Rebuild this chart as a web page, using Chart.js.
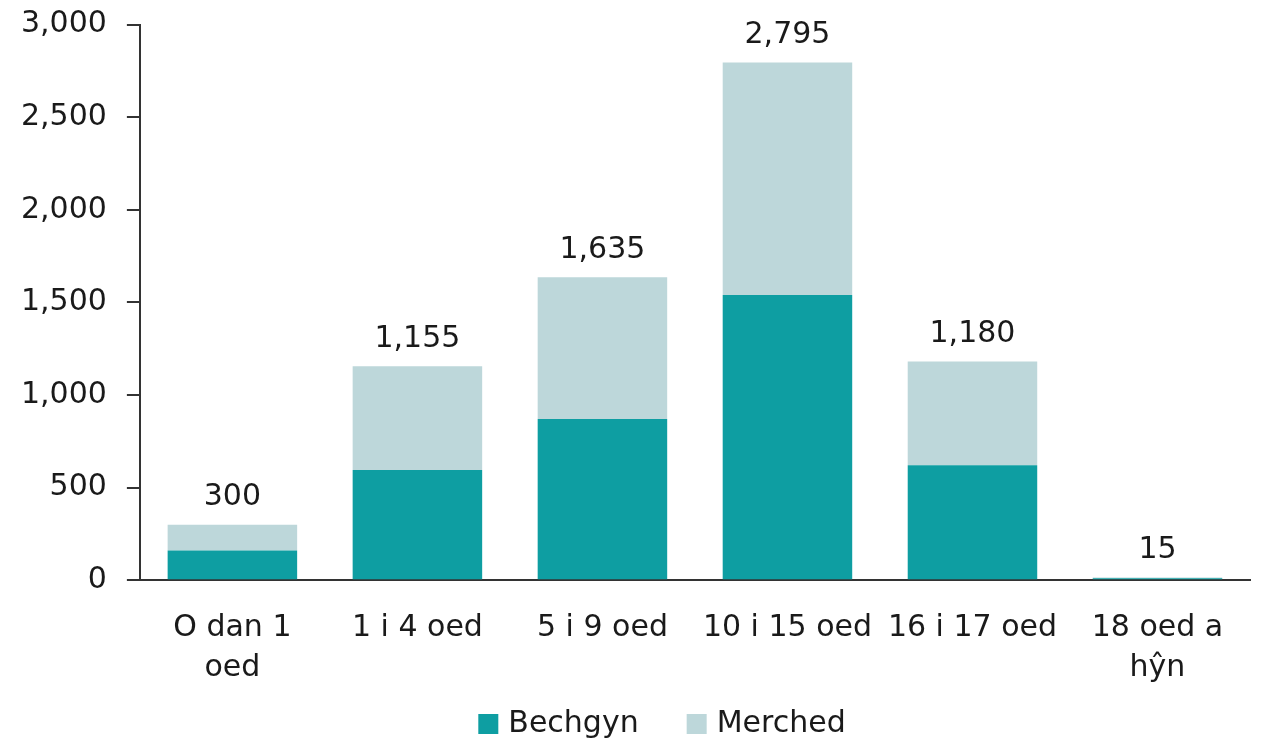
<!DOCTYPE html>
<html>
<head>
<meta charset="utf-8">
<script src="https://cdn.jsdelivr.net/npm/chart.js@4"></script>
<style>
  html, body { margin: 0; padding: 0; background: #fff; }
  #wrap { width: 1261px; height: 745px; }
</style>
</head>
<body>
<div id="wrap"><canvas id="chart"></canvas></div>
<script>
// Age groups (wrapped labels as arrays)
const categories = [['O dan 1', 'oed'], '1 i 4 oed', '5 i 9 oed', '10 i 15 oed', '16 i 17 oed', ['18 oed a', 'hŷn']];
const boys = [160, 595, 870, 1540, 620, 10];
const girls = [140, 560, 765, 1255, 560, 5];
const totals = [300, 1155, 1635, 2795, 1180, 15];
const yTicks = [0, 500, 1000, 1500, 2000, 2500, 3000];

const FONT = "'DejaVu Sans', sans-serif";
const TEXT = '#1a1a1a';
const SIZE = 30;

// Draw the total above each stack
const totalLabels = {
  id: 'totalLabels',
  afterDatasetsDraw(chart) {
    const ctx = chart.ctx;
    const meta = chart.getDatasetMeta(1);
    const y = chart.scales.y;
    ctx.save();
    ctx.font = `${SIZE}px ${FONT}`;
    ctx.fillStyle = TEXT;
    ctx.textAlign = 'center';
    ctx.textBaseline = 'middle';
    meta.data.forEach((bar, i) => {
      const top = y.getPixelForValue(boys[i] + girls[i]);
      ctx.fillText(totals[i].toLocaleString('en-US'), bar.x, top - 27);
    });
    ctx.restore();
  }
};

// Legend drawn by hand so box/text gaps match the original
const bottomLegend = {
  id: 'bottomLegend',
  afterDraw(chart) {
    const ctx = chart.ctx;
    const box = 20, gap = 10, itemGap = 48;
    ctx.save();
    ctx.font = `${SIZE}px ${FONT}`;
    ctx.textBaseline = 'middle';
    const items = chart.data.datasets.map(ds => ({
      text: ds.label, color: ds.backgroundColor, w: ctx.measureText(ds.label).width
    }));
    const total = items.reduce((s, it) => s + box + gap + it.w, 0) + itemGap * (items.length - 1);
    let x = 662 - total / 2;
    const cy = 724;
    items.forEach(it => {
      ctx.fillStyle = it.color;
      ctx.fillRect(x, cy - box / 2, box, box);
      x += box + gap;
      ctx.fillStyle = TEXT;
      ctx.fillText(it.text, x, cy);
      x += it.w + itemGap;
    });
    ctx.restore();
  }
};

new Chart(document.getElementById('chart'), {
  type: 'bar',
  data: {
    labels: categories,
    datasets: [
      { label: 'Bechgyn', data: boys, backgroundColor: '#0e9ea2' },
      { label: 'Merched', data: girls, backgroundColor: '#bdd7da' }
    ]
  },
  options: {
    responsive: true,
    maintainAspectRatio: false,
    animation: false,
    layout: { padding: { top: 0, right: 11, left: 1, bottom: 29 } },
    datasets: { bar: { barPercentage: 0.7, categoryPercentage: 1 } },
    plugins: {
      tooltip: { enabled: false },
      legend: { display: false }
    },
    scales: {
      x: {
        stacked: true,
        grid: { display: false, drawTicks: false },
        border: { color: '#333', width: 2 },
        ticks: { color: TEXT, font: { family: FONT, size: SIZE, lineHeight: 1.33 }, padding: 28, maxRotation: 0 }
      },
      y: {
        stacked: true,
        min: 0,
        max: 3000,
        afterBuildTicks(axis) { axis.ticks = yTicks.map(v => ({ value: v })); },
        grid: { drawOnChartArea: false, drawTicks: true, tickLength: 13, color: '#333', lineWidth: 2 },
        border: { color: '#333', width: 2 },
        ticks: {
          color: TEXT,
          // small lineHeight keeps the top label from pushing the plot down
          font: { family: FONT, size: SIZE, lineHeight: 0.3 },
          padding: 20,
          callback: v => v.toLocaleString('en-US')
        }
      }
    }
  },
  plugins: [totalLabels, bottomLegend]
});
</script>
</body>
</html>
